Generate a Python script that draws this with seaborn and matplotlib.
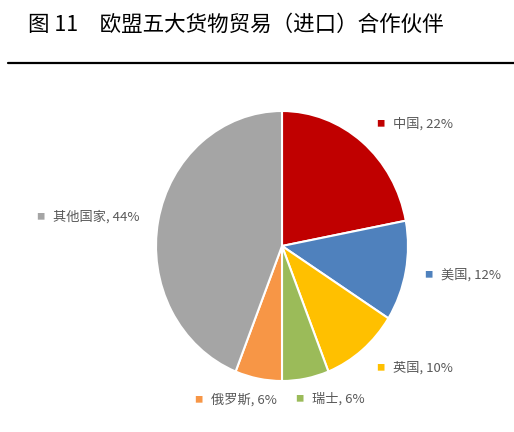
import matplotlib
matplotlib.use("Agg")
import matplotlib.pyplot as plt
import numpy as np
import seaborn as sns
from matplotlib.lines import Line2D
from matplotlib.offsetbox import AnnotationBbox, HPacker, TextArea

TITLE = "图 11\u3000欧盟五大货物贸易（进口）合作伙伴"
partners = ["中国", "美国", "英国", "瑞士", "俄罗斯", "其他国家"]
shares = [22, 12, 10, 6, 6, 44]
slice_colors = ["#C00000", "#4F81BD", "#FFC000", "#9BBB59", "#F79646", "#A5A5A5"]

# label layout: radial distance and small angle nudge per slice
label_dist = [1.17, 1.15, 1.17, 1.14, 1.14, 1.15]
label_nudge = [0, 0, 0, -5.5, 8.8, 0]

sns.set_theme(style="white")
plt.rcParams['font.family'] = ['Noto Sans CJK SC', 'DejaVu Sans']

W, H = 514, 432
fig = plt.figure(figsize=(W / 100, H / 100), dpi=100)

# pie centre / radii in pixels (slightly taller than wide, as in the source)
cx, cy, rx, ry = 282, 246, 126, 135
top = 70
ax = fig.add_axes([0, 0, 1, (H - top) / H])
ax.set_facecolor("white")

palette = sns.color_palette(slice_colors)
wedges, _ = ax.pie(shares, colors=palette, startangle=90, counterclock=False,
                   wedgeprops=dict(edgecolor="white", linewidth=1.5))
ax.set_aspect("auto")
ax.set_xlim(-cx / rx, (W - cx) / rx)
ax.set_ylim(-(H - cy) / ry, (H - top - (H - cy)) / ry)
ax.axis("off")

for w, name, val, col, d, nd in zip(wedges, partners, shares, palette, label_dist, label_nudge):
    ang = np.deg2rad((w.theta1 + w.theta2) / 2 + nd)
    x, y = d * np.cos(ang), d * np.sin(ang)
    box = HPacker(children=[
        TextArea("■", textprops=dict(color=col, fontsize=6)),
        TextArea(f"{name}, {val}%", textprops=dict(color="#595959", fontsize=9.5)),
    ], align="center", pad=0, sep=6)
    ha = 0 if x >= 0 else 1
    ab = AnnotationBbox(box, (x, y), xycoords="data", frameon=False,
                        box_alignment=(ha, 0.5), pad=0)
    ax.add_artist(ab)

fig.text(28 / W, 1 - 25 / H, TITLE, fontsize=15.5, fontweight="medium",
         color="black", ha="left", va="center")
fig.add_artist(Line2D([8 / W, 1], [1 - 63 / H, 1 - 63 / H], color="black",
                      linewidth=1.6, transform=fig.transFigure))

fig.savefig("out.png", dpi=100, facecolor="white")
